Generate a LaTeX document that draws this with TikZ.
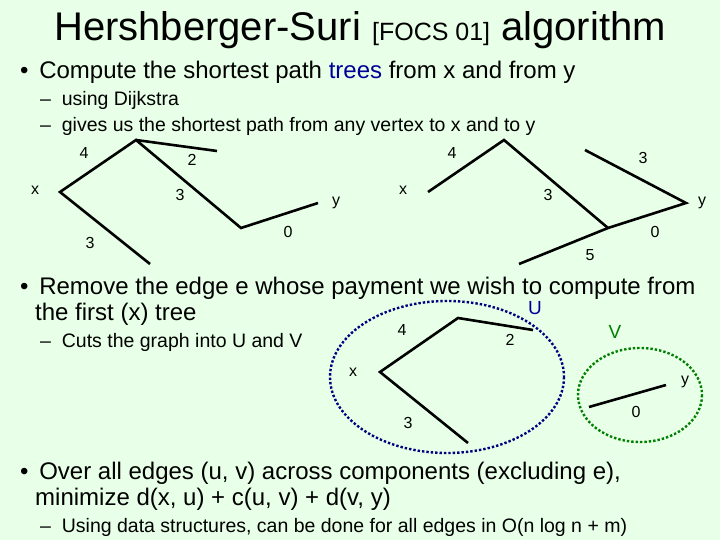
\documentclass[tikz,border=0pt]{standalone}
\usepackage{fontspec}
\setmainfont{Liberation Sans}
\begin{document}
\begin{tikzpicture}[x=1pt,y=-1pt,
  edge/.style={line width=2.6pt,black},
  lab/.style={font=\fontsize{16}{16}\selectfont,inner sep=0pt},
  txt/.style={anchor=west,inner sep=0pt},
  big/.style={txt,font=\fontsize{24}{26}\selectfont},
  small/.style={txt,font=\fontsize{19.5}{22}\selectfont}]
\fill[fill=green!9] (0,0) rectangle (720,540);
\useasboundingbox (0,0) rectangle (720,540);
\node[inner sep=0pt] (title) at (360,30) {\fontsize{40}{44}\selectfont Hershberger-Suri {\fontsize{25}{28}\selectfont[FOCS 01]} algorithm};
\node[big] (b1) at (20,72) {\textbullet\ \,Compute the shortest path {\color{blue!60!black}trees} from x and from y};
\node[small] (s1) at (40,100) {\textendash\ \ using Dijkstra};
\node[small] (s2) at (40,126) {\textendash\ \ gives us the shortest path from any vertex to x and to y};
% tree 1
\coordinate (ax) at (60,192); \coordinate (at) at (136,140); \coordinate (a2) at (217,151);
\coordinate (ac) at (241,228); \coordinate (ay) at (318,203); \coordinate (ab) at (150,264);
\draw[edge] (ab) -- (ax) -- (at) -- (ac) -- (ay);
\draw[edge] (at) -- (a2);
\node[lab] (l1) at (84,153) {4}; \node[lab] (l2) at (192,160) {2};
\node[lab] (l3) at (180,195) {3}; \node[lab] (l4) at (90,243) {3};
\node[lab] (l5) at (288,232) {0}; \node[lab] (lx1) at (35,190) {x}; \node[lab] (ly1) at (336,203) {y};
% tree 2
\coordinate (bx) at (428,192); \coordinate (bt) at (504,140); \coordinate (bc) at (608,228);
\coordinate (by) at (686,203); \coordinate (b3) at (585,150); \coordinate (bb) at (519,264);
\draw[edge] (bx) -- (bt) -- (bc);
\draw[edge] (bb) -- (bc) -- (by) -- (b3);
\node[lab] (m1) at (452,153) {4}; \node[lab] (m2) at (643,158) {3};
\node[lab] (m3) at (548,195) {3}; \node[lab] (m4) at (655,232) {0};
\node[lab] (m5) at (590,255) {5}; \node[lab] (lx2) at (403,190) {x}; \node[lab] (ly2) at (702,203) {y};
% bullet 2
\node[big] (b2) at (20,288) {\textbullet\ \,Remove the edge e whose payment we wish to compute from};
\node[big] (b2b) at (35,314) {the first (x) tree};
\node[small] (s3) at (40,342) {\textendash\ \ Cuts the graph into U and V};
% tree 3
\draw[blue!50!black,line width=2.4pt,dotted] (447,377) ellipse [x radius=117,y radius=76];
\draw[green!50!black,line width=2.4pt,dotted] (640,395) ellipse [x radius=62,y radius=47];
\coordinate (cx) at (380,372); \coordinate (ct) at (458,318); \coordinate (c2) at (533,330);
\coordinate (cb) at (468,443); \coordinate (g1) at (589,407); \coordinate (g2) at (666,385);
\draw[edge] (cb) -- (cx) -- (ct) -- (c2);
\draw[edge] (g1) -- (g2);
\node[lab] (n1) at (402,330) {4}; \node[lab] (n2) at (510,340) {2};
\node[lab] (n3) at (408,423) {3}; \node[lab] (n4) at (636,412) {0};
\node[lab] (lx3) at (353,372) {x}; \node[lab] (ly3) at (685,382) {y};
\node[lab,font=\fontsize{19}{19}\selectfont,blue!60!black] (U) at (535,308) {U};
\node[lab,font=\fontsize{19}{19}\selectfont,green!50!black] (V) at (615,332) {V};
% bullet 3
\node[big] (b3t) at (20,473) {\textbullet\ \,Over all edges (u, v) across components (excluding e),};
\node[big] (b3u) at (35,499) {minimize d(x, u) + c(u, v) + d(v, y)};
\node[small] (s4) at (40,527) {\textendash\ \ Using data structures, can be done for all edges in O(n log n + m)};
\end{tikzpicture}
\end{document}
